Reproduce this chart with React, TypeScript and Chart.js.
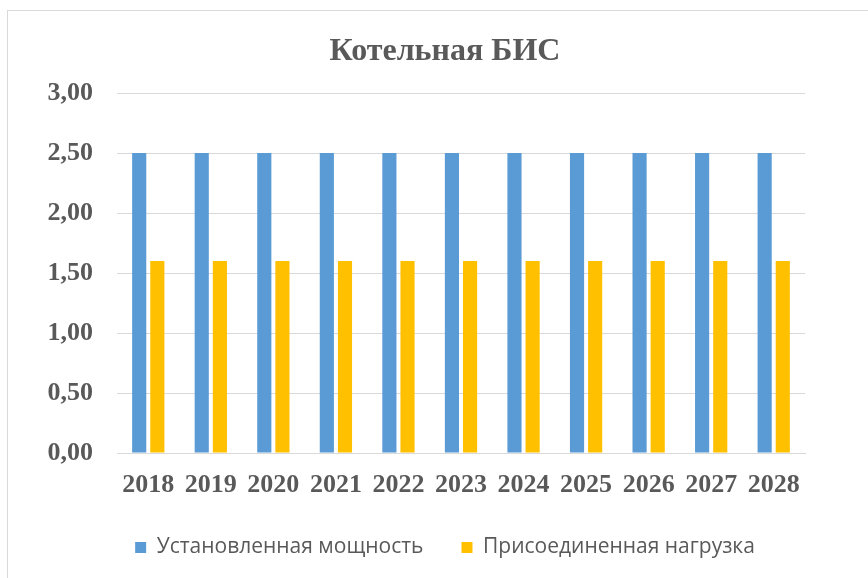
import React, { useEffect, useRef } from "react";
import { Chart, registerables } from "chart.js";

Chart.register(...registerables);

const title = "Котельная БИС";
const years = ["2018", "2019", "2020", "2021", "2022", "2023", "2024", "2025", "2026", "2027", "2028"];
const installedCapacity = [2.5, 2.5, 2.5, 2.5, 2.5, 2.5, 2.5, 2.5, 2.5, 2.5, 2.5];
const connectedLoad = [1.6, 1.6, 1.6, 1.6, 1.6, 1.6, 1.6, 1.6, 1.6, 1.6, 1.6];
const seriesNames = ["Установленная мощность", "Присоединенная нагрузка"];

const TEXT = "#595959";
const GRID = "#D9D9D9";
const SERIF = "'Liberation Serif', 'Times New Roman', serif";

export default function App() {
  const ref = useRef<HTMLCanvasElement | null>(null);

  useEffect(() => {
    document.body.style.margin = "0";
    const ctx = ref.current!;
    const chart = new Chart(ctx, {
      type: "bar",
      data: {
        labels: years,
        datasets: [
          {
            label: seriesNames[0],
            data: installedCapacity,
            backgroundColor: "#5B9BD5",
            barPercentage: 0.78,
            categoryPercentage: 0.58,
          },
          {
            label: seriesNames[1],
            data: connectedLoad,
            backgroundColor: "#FFC000",
            barPercentage: 0.78,
            categoryPercentage: 0.58,
          },
        ],
      },
      options: {
        responsive: false,
        animation: false,
        maintainAspectRatio: false,
        layout: { padding: { left: 22, right: 0, top: 0, bottom: 10 } },
        plugins: {
          title: {
            display: true,
            text: title,
            color: TEXT,
            font: { family: SERIF, size: 32, weight: "bold" },
            padding: { top: 33, bottom: 21.6 },
          },
          legend: {
            position: "bottom",
            labels: {
              color: TEXT,
              boxWidth: 11,
              boxHeight: 11,
              padding: 38,
              font: { family: "'Open Sans', 'Noto Sans', sans-serif", size: 21 },
            },
          },
          tooltip: { enabled: false },
        },
        scales: {
          x: {
            grid: { display: false, drawTicks: false },
            border: { display: true, color: GRID, width: 1 },
            ticks: {
              color: TEXT,
              padding: 17,
              font: { family: SERIF, size: 26, weight: "bold" },
            },
            afterFit: (s: any) => {
              s.height = 46;
            },
          },
          y: {
            min: 0,
            max: 3,
            grid: { color: GRID, lineWidth: 1, drawTicks: false },
            border: { display: false },
            ticks: {
              stepSize: 0.5,
              color: TEXT,
              padding: 24,
              font: { family: SERIF, size: 26, weight: "bold" },
              callback: (v: any) => Number(v).toFixed(2).replace(".", ","),
            },
            afterFit: (s: any) => {
              s.width = 95;
            },
          },
          yRight: {
            position: "right",
            min: 0,
            max: 3,
            grid: { display: false, drawTicks: false },
            border: { display: false },
            ticks: { display: false },
            afterFit: (s: any) => {
              s.width = 63;
            },
          },
        },
      },
    });
    return () => chart.destroy();
  }, []);

  return (
    <div style={{ position: "relative", width: 868, height: 578, overflow: "hidden", background: "#fff" }}>
      <div
        style={{
          position: "absolute",
          left: 7,
          top: 10,
          width: 900,
          height: 600,
          border: `1px solid ${GRID}`,
          boxSizing: "border-box",
        }}
      />
      <canvas ref={ref} width={868} height={578} style={{ position: "absolute", left: 0, top: 0 }} />
    </div>
  );
}
